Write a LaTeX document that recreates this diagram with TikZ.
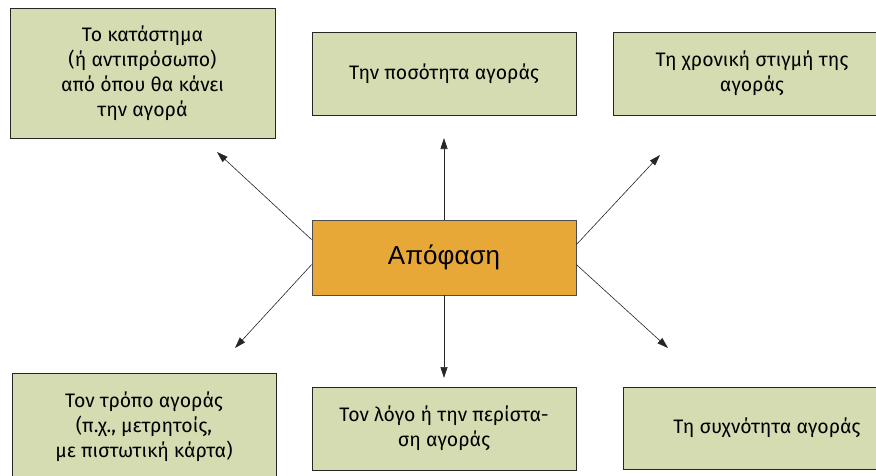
\documentclass[tikz,border=0pt]{standalone}
\usepackage{fontspec}
\setmainfont{Fira Sans}
\newfontfamily\arialfont{Liberation Sans}
\usepackage{xcolor}
\usetikzlibrary{arrows.meta,positioning,calc}
\definecolor{boxgreen}{HTML}{D6DCB1}
\definecolor{boxorange}{HTML}{E8A838}

\begin{document}
\begin{tikzpicture}[x=1pt, y=-1pt, >={Triangle[length=11pt,width=7pt]},
    optbox/.style={draw=black!85, fill=boxgreen, line width=0.8pt, inner sep=0pt,
        align=center, font=\fontsize{19.5}{25}\selectfont},
    decbox/.style={draw=black!70, fill=boxorange, line width=0.8pt,
        font=\arialfont\fontsize{26}{30}\selectfont},
    link/.style={->, line width=0.6pt, black!85}]
\useasboundingbox (0,0) rectangle (876,475);

\node[decbox, minimum width=264pt, minimum height=75pt] (dec) at (444,257.5) {Απόφαση};

\node[optbox, minimum width=265pt, minimum height=130pt] (store) at (142.5,73)
    {Το κατάστημα\\(ή αντιπρόσωπο)\\από όπου θα κάνει\\την αγορά};
\node[optbox, minimum width=264pt, minimum height=83pt] (qty) at (444,73.5)
    {Την ποσότητα αγοράς};
\node[optbox, minimum width=278pt, minimum height=83pt] (time) at (752,73.5)
    {Τη χρονική στιγμή της\\αγοράς};
\node[optbox, minimum width=264pt, minimum height=108pt] (way) at (144,427)
    {Τον τρόπο αγοράς\\(π.χ., μετρητοίς,\\με πιστωτική κάρτα)};
\node[optbox, minimum width=264pt, minimum height=83pt] (cause) at (444,428.5)
    {Τον λόγο ή την περίστα-\\ση αγοράς};
\node[optbox, minimum width=288pt, minimum height=82pt] (freq) at (767,428)
    {Τη συχνότητα αγοράς};

% free tips of the arrows
\coordinate (tstore) at (217,152);
\coordinate (tqty) at (444,138);
\coordinate (ttime) at (660,155);
\coordinate (tway) at (235,348);
\coordinate (tcause) at (444,378);
\coordinate (tfreq) at (668,348);

\draw[link] ([yshift=-20pt]dec.north west) -- (tstore);
\draw[link] (dec.north) -- (tqty);
\draw[link] ([yshift=-25pt]dec.north east) -- (ttime);
\draw[link] ([yshift=-45pt]dec.north west) -- (tway);
\draw[link] (dec.south) -- (tcause);
\draw[link] ([yshift=-45pt]dec.north east) -- (tfreq);
\end{tikzpicture}
\end{document}
